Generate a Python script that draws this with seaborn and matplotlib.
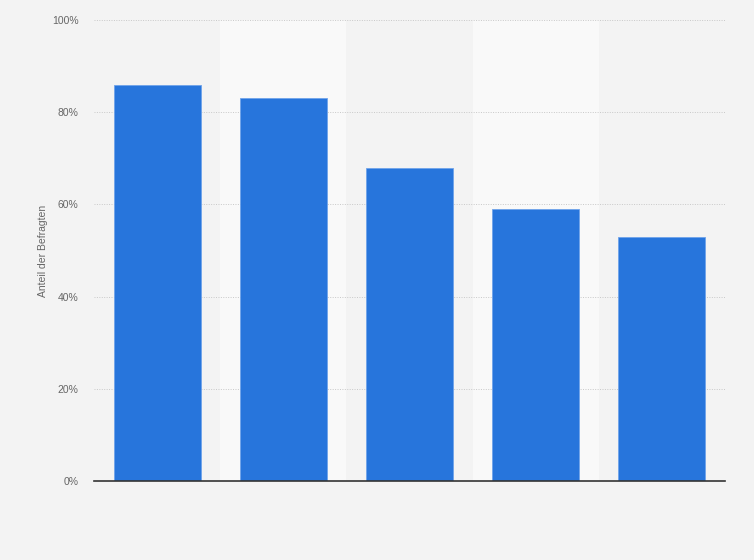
import numpy as np
import pandas as pd
import matplotlib
matplotlib.use("Agg")
import matplotlib.pyplot as plt
import seaborn as sns

# values (share of respondents, %)
categories = ["A", "B", "C", "D", "E"]
values = [86, 83, 68, 59, 53]
yticks = [0, 20, 40, 60, 80, 100]

bg = "#f3f3f3"
band = "#f9f9f9"
bar_color = "#2775dc"

sns.set_style("white")
plt.rcParams['font.family'] = ['Liberation Sans', 'DejaVu Sans']

df = pd.DataFrame({"cat": categories, "val": values})

fig = plt.figure(figsize=(7.54, 5.6), dpi=100, facecolor=bg)
ax = fig.add_axes([94 / 754, 79 / 560, 631 / 754, 461 / 560])
ax.set_facecolor(bg)

# lighter bands behind every second category
for i in range(len(categories)):
    if i % 2 == 1:
        ax.axvspan(i - 0.5, i + 0.5, color=band, zorder=0, lw=0)

sns.barplot(data=df, x="cat", y="val", color=bar_color, width=0.69,
            saturation=1, edgecolor="#6fa3ea", linewidth=0.6, ax=ax, zorder=3)

ax.set_xlim(-0.5, len(categories) - 0.5)
ax.set_ylim(0, 100)
ax.set_yticks(yticks)
ax.set_yticklabels([f"{t}%" for t in yticks], color="#666666", fontsize=7.5)
ax.tick_params(axis="y", length=0, pad=11)
ax.set_xticks([])
ax.set_xlabel("")
ax.set_ylabel("Anteil der Befragten", color="#666666", fontsize=7.5, labelpad=3)

ax.yaxis.grid(True, linestyle=(0, (1, 1.5)), color="#c8c8c8", linewidth=0.7, zorder=1)
ax.set_axisbelow(True)
for s in ["top", "right", "left"]:
    ax.spines[s].set_visible(False)
ax.spines["bottom"].set_color("#333333")
ax.spines["bottom"].set_linewidth(1.2)
ax.spines["bottom"].set_zorder(5)

fig.savefig("out.png", dpi=100, facecolor=bg)
